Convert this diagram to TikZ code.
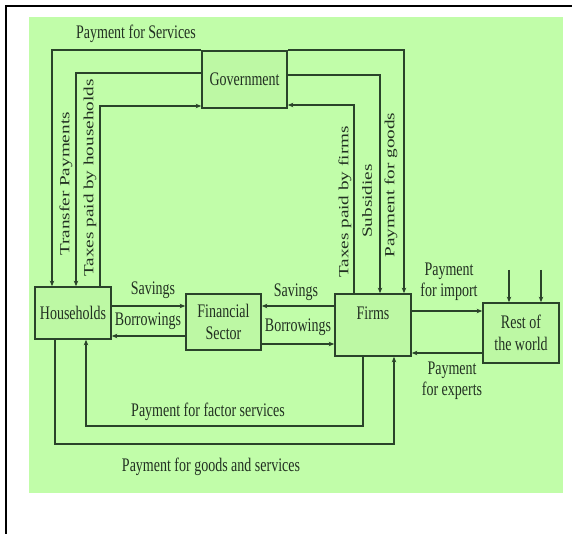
\documentclass[tikz,border=0pt]{standalone}
\usepackage{graphicx}
\usepackage{fontspec}
\setmainfont{Liberation Serif}
\usetikzlibrary{arrows.meta}
\definecolor{bg}{HTML}{C1FDA9}
\definecolor{boxbg}{HTML}{BDF8A4}
\definecolor{ln}{HTML}{2A432A}
\definecolor{tx}{HTML}{223022}
\newcommand{\hs}[1]{\scalebox{1}[1.37]{#1}}
\newcommand{\vs}[1]{\scalebox{1.37}[1]{#1}}
\begin{document}
\begin{tikzpicture}[x=1pt,y=-1pt,
  font=\fontsize{14}{21.5}\selectfont,
  box/.style={draw=ln, line width=1.7pt, fill=boxbg, inner sep=0pt, text=tx, align=center},
  flow/.style={draw=ln, line width=1.5pt, -{Stealth[length=5.5pt,width=4.5pt]}},
  lbl/.style={text=tx, inner sep=0pt, align=center}]
\useasboundingbox (0,0) rectangle (572,534);
\fill[white] (0,0) rectangle (572,534);
\fill[bg] (29,17) rectangle (563,493);
\draw[black, line width=2pt] (6,534) -- (6,6) -- (572,6);

% boxes
\node[box, minimum width=85pt, minimum height=57pt] (gov) at (244.5,79.5) {\hs{Government}};
\node[box, minimum width=76pt, minimum height=52pt] (hh) at (73,313) {\hs{Households}};
\node[box, minimum width=75pt, minimum height=56pt] (fs) at (223.5,322) {\hs{Financial}\\\hs{Sector}};
\node[box, minimum width=76pt, minimum height=62pt] (firms) at (373,325) {\hs{Firms}\\[3pt]};
\node[box, minimum width=76pt, minimum height=60pt] (row) at (521,333) {\hs{Rest of}\\\hs{the world}};

% government flows
\draw[flow] (gov.north west) -| (hh.north -| 52,0);
\draw[flow] (gov.west |- 0,73) -| (hh.north -| 76,0);
\draw[flow] (hh.north -| 100,0) |- (gov.west |- 0,106);
\draw[flow] (gov.north east) -| (firms.north -| 404,0);
\draw[flow] (gov.east |- 0,75) -| (firms.north -| 380,0);
\draw[flow] (firms.north -| 354,0) |- (gov.east |- 0,105);

% financial flows
\draw[flow] (hh.east |- 0,306) -- (fs.west |- 0,306);
\draw[flow] (fs.west |- 0,336) -- (hh.east |- 0,336);
\draw[flow] (firms.west |- 0,306) -- (fs.east |- 0,306);
\draw[flow] (fs.east |- 0,344) -- (firms.west |- 0,344);

% rest of world
\draw[flow] (firms.east |- 0,311) -- (row.west |- 0,311);
\draw[flow] (row.west |- 0,353) -- (firms.east |- 0,353);
\coordinate (r1) at (509,270);
\coordinate (r2) at (541,270);
\draw[flow] (r1) -- (row.north -| r1);
\draw[flow] (r2) -- (row.north -| r2);

% bottom loops
\draw[flow] (firms.south -| 363,0) -- (363,426) -- (86,426) -- (hh.south -| 86,0);
\draw[flow] (hh.south -| 55,0) -- (55,444) -- (394,444) -- (firms.south -| 394,0);

% labels
\node[lbl] (l1) at (136,34) {\hs{Payment for Services}};
\node[lbl, rotate=90] (l2) at (66,184) {\vs{Transfer Payments}};
\node[lbl, rotate=90] (l3) at (90,178) {\vs{Taxes paid by households}};
\node[lbl, rotate=90] (l4) at (345,202) {\vs{Taxes paid by firms}};
\node[lbl, rotate=90] (l5) at (367,201) {\vs{Subsidies}};
\node[lbl, rotate=90] (l6) at (391,185) {\vs{Payment for goods}};
\node[lbl] (l7) at (153,290) {\hs{Savings}};
\node[lbl] (l8) at (148,321) {\hs{Borrowings}};
\node[lbl] (l9) at (296,292) {\hs{Savings}};
\node[lbl] (l10) at (298,327) {\hs{Borrowings}};
\node[lbl] (l11) at (449,282) {\hs{Payment}\\\hs{for import}};
\node[lbl] (l12) at (452,381) {\hs{Payment}\\\hs{for experts}};
\node[lbl] (l13) at (208,412) {\hs{Payment for factor services}};
\node[lbl] (l14) at (211,467) {\hs{Payment for goods and services}};
\end{tikzpicture}
\end{document}
